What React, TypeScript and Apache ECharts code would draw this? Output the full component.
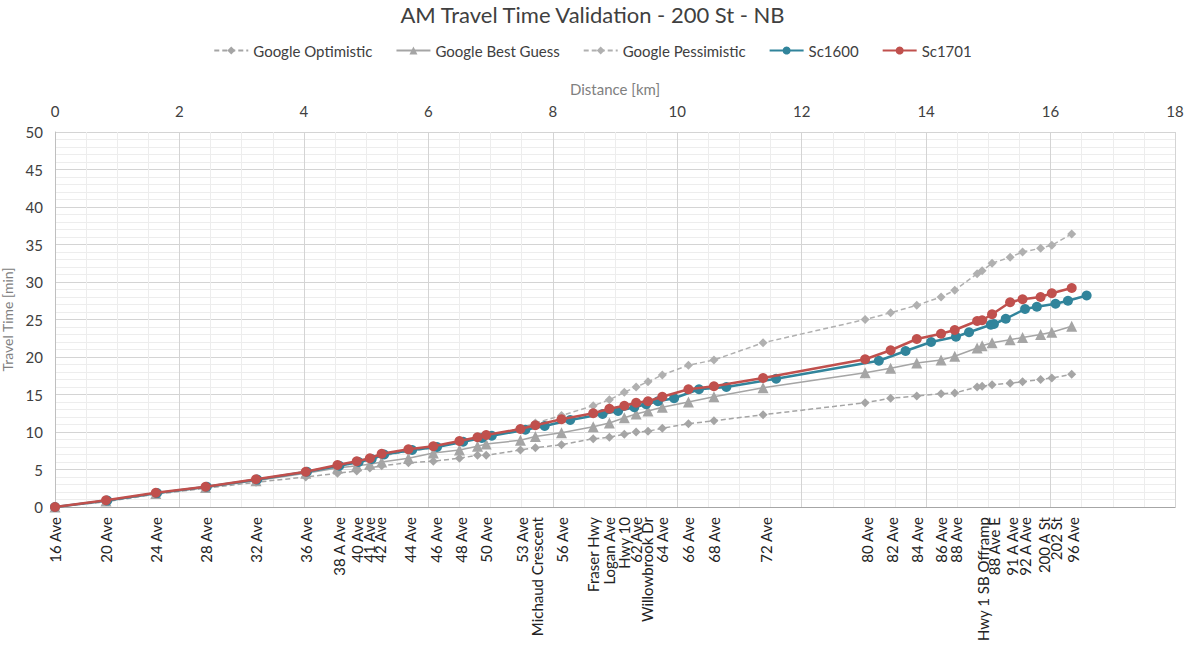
import React, { useEffect, useRef } from "react";
import * as echarts from "echarts";

// Station distances (km) shared by Google series and Sc1701
const stationKm = [0, 0.82, 1.62, 2.42, 3.23, 4.03, 4.54, 4.85, 5.06, 5.25, 5.68, 6.08, 6.5, 6.79, 6.93, 7.48, 7.72, 8.14, 8.65, 8.91, 9.15, 9.34, 9.53, 9.76, 10.18, 10.59, 11.38, 13.02, 13.43, 13.85, 14.24, 14.46, 14.82, 14.9, 15.06, 15.35, 15.55, 15.84, 16.02, 16.34];
const googleOptimistic = [0, 0.7, 1.7, 2.5, 3.3, 4.0, 4.5, 4.8, 5.2, 5.5, 5.9, 6.1, 6.5, 6.9, 6.9, 7.6, 7.9, 8.3, 9.1, 9.3, 9.7, 10.0, 10.1, 10.5, 11.1, 11.5, 12.3, 13.9, 14.5, 14.8, 15.1, 15.2, 16.0, 16.1, 16.3, 16.5, 16.7, 17.0, 17.2, 17.7];
const googleBestGuess = [0, 0.8, 1.8, 2.6, 3.5, 4.5, 5.2, 5.5, 5.7, 6.0, 6.5, 7.2, 7.6, 8.1, 8.4, 8.9, 9.4, 9.9, 10.7, 11.2, 11.9, 12.4, 12.8, 13.3, 14.0, 14.7, 15.9, 17.9, 18.5, 19.2, 19.6, 20.1, 21.2, 21.5, 21.9, 22.3, 22.6, 23.0, 23.3, 24.1];
const googlePessimistic = [0, 0.9, 1.8, 2.7, 3.6, 4.6, 5.4, 5.9, 6.3, 6.8, 7.4, 7.9, 8.6, 9.1, 9.4, 10.5, 11.2, 12.2, 13.5, 14.3, 15.3, 16.0, 16.7, 17.6, 18.9, 19.6, 21.9, 25.0, 25.9, 26.9, 28.0, 28.9, 31.1, 31.5, 32.5, 33.3, 34.0, 34.5, 34.9, 36.4];
const sc1701 = [0, 0.9, 1.9, 2.7, 3.7, 4.7, 5.6, 6.1, 6.5, 7.1, 7.7, 8.1, 8.8, 9.3, 9.6, 10.4, 10.9, 11.7, 12.5, 13.1, 13.5, 13.9, 14.1, 14.7, 15.7, 16.1, 17.2, 19.7, 20.9, 22.4, 23.1, 23.6, 24.8, 24.9, 25.7, 27.3, 27.7, 28.0, 28.5, 29.2];

// Sc1600 has its own modelled distances
const sc1600Km = [0, 0.84, 1.64, 2.44, 3.25, 4.05, 4.57, 4.88, 5.09, 5.29, 5.74, 6.14, 6.56, 6.86, 7.02, 7.56, 7.87, 8.28, 8.8, 9.05, 9.31, 9.5, 9.69, 9.95, 10.35, 10.79, 11.59, 13.24, 13.67, 14.08, 14.48, 14.69, 15.04, 15.09, 15.28, 15.59, 15.78, 16.08, 16.28, 16.58];
const sc1600 = [0, 0.85, 1.85, 2.7, 3.65, 4.7, 5.5, 6.0, 6.4, 7.0, 7.6, 8.0, 8.7, 9.2, 9.5, 10.3, 10.8, 11.6, 12.4, 12.8, 13.3, 13.7, 14.1, 14.5, 15.7, 16.0, 17.1, 19.5, 20.8, 22.0, 22.7, 23.3, 24.3, 24.4, 25.1, 26.4, 26.7, 27.1, 27.5, 28.2];

// Cross-street labels along the bottom axis
const labelKm = [0, 0.82, 1.62, 2.42, 3.23, 4.03, 4.56, 4.85, 5.04, 5.22, 5.7, 6.13, 6.52, 6.93, 7.5, 7.75, 8.15, 8.64, 8.91, 9.15, 9.34, 9.52, 9.76, 10.18, 10.59, 11.43, 13.05, 13.45, 13.85, 14.24, 14.48, 14.91, 15.09, 15.38, 15.59, 15.89, 16.08, 16.36];
const labelNames = ["16 Ave", "20 Ave", "24 Ave", "28 Ave", "32 Ave", "36 Ave", "38 A Ave", "40 Ave", "41 Ave", "42 Ave", "44 Ave", "46 Ave", "48 Ave", "50 Ave", "53 Ave", "Michaud Crescent", "56 Ave", "Fraser Hwy", "Logan Ave", "Hwy 10", "62 Ave", "Willowbrook Dr", "64 Ave", "66 Ave", "68 Ave", "72 Ave", "80 Ave", "82 Ave", "84 Ave", "86 Ave", "88 Ave", "Hwy 1 SB Offramp", "88 Ave E", "91 A Ave", "92 A Ave", "200 A St", "202 St", "96 Ave"];

const FONT = "Lato, 'Open Sans', sans-serif";
const TEXT = "#404040";

const pairs = (xs: number[], ys: number[]) => xs.map((x, i) => [x, ys[i]]);

export default function App() {
  const ref = useRef<HTMLDivElement>(null);
  useEffect(() => {
    if (!ref.current) return;
    const chart = echarts.init(ref.current, undefined, { renderer: "svg" });
    const nameFor = (v: number) => {
      let best = 0;
      let d = Infinity;
      labelKm.forEach((k, i) => {
        const dd = Math.abs(k - v);
        if (dd < d) { d = dd; best = i; }
      });
      return labelNames[best];
    };
    const dashedSeries = (name: string, data: number[], color: string) => ({
      name,
      type: "line",
      xAxisIndex: 0,
      data: pairs(stationKm, data),
      symbol: "diamond",
      symbolSize: 9,
      itemStyle: { color },
      lineStyle: { color, width: 1.5, type: [5, 3] },
      z: 2,
    });
    chart.setOption({
      animation: false,
      textStyle: { fontFamily: FONT },
      title: {
        text: "AM Travel Time Validation - 200 St - NB",
        left: "center",
        top: -2,
        textStyle: { fontFamily: FONT, fontSize: 22, fontWeight: "normal", color: TEXT },
      },
      legend: {
        top: 38,
        left: "center",
        itemWidth: 34,
        itemHeight: 10,
        itemGap: 23,
        textStyle: { fontFamily: FONT, fontSize: 15, color: TEXT },
        data: ["Google Optimistic", "Google Best Guess", "Google Pessimistic", "Sc1600", "Sc1701"],
      },
      grid: { left: 55, right: 10, top: 132, bottom: 142, containLabel: false, outerBoundsMode: "none" },
      xAxis: [
        {
          type: "value",
          position: "top",
          min: 0,
          max: 18,
          interval: 2,
          name: "Distance [km]",
          nameLocation: "middle",
          nameGap: 36,
          nameTextStyle: { fontFamily: FONT, fontSize: 15, color: "#808080" },
          axisLine: { show: true, lineStyle: { color: "#BFBFBF" } },
          axisTick: { show: false },
          axisLabel: { fontFamily: FONT, fontSize: 15, color: TEXT, margin: 14 },
          splitLine: { show: true, lineStyle: { color: "#D4D4D4", width: 1 } },
          minorTick: { show: false, splitNumber: 4 },
          minorSplitLine: { show: true, lineStyle: { color: "#EDEDED", width: 1 } },
        },
        {
          type: "value",
          position: "bottom",
          min: 0,
          max: 18,
          axisLine: { show: true, lineStyle: { color: "#A6A6A6" } },
          axisTick: { show: false },
          splitLine: { show: false },
          axisLabel: {
            customValues: labelKm,
            rotate: 90,
            margin: 10,
            fontFamily: FONT,
            fontSize: 15,
            color: "#222222",
            hideOverlap: false,
            formatter: (v: number) => nameFor(v),
          },
        },
      ],
      yAxis: {
        type: "value",
        min: 0,
        max: 50,
        interval: 5,
        name: "Travel Time [min]",
        nameLocation: "middle",
        nameGap: 38,
        nameTextStyle: { fontFamily: FONT, fontSize: 14, color: "#808080" },
        axisLine: { show: true, lineStyle: { color: "#BFBFBF" } },
        axisTick: { show: false },
        axisLabel: { fontFamily: FONT, fontSize: 15, color: TEXT, margin: 12 },
        splitLine: { show: true, lineStyle: { color: "#D4D4D4", width: 1 } },
        minorTick: { show: false, splitNumber: 5 },
        minorSplitLine: { show: true, lineStyle: { color: "#EDEDED", width: 1 } },
      },
      series: [
        dashedSeries("Google Optimistic", googleOptimistic, "#A5A5A5"),
        {
          name: "Google Best Guess",
          type: "line",
          xAxisIndex: 0,
          data: pairs(stationKm, googleBestGuess),
          symbol: "triangle",
          symbolSize: 11,
          itemStyle: { color: "#A5A5A5" },
          lineStyle: { color: "#A5A5A5", width: 1.5 },
          z: 2,
        },
        dashedSeries("Google Pessimistic", googlePessimistic, "#B0B0B0"),
        {
          name: "Sc1600",
          type: "line",
          xAxisIndex: 0,
          data: pairs(sc1600Km, sc1600),
          symbol: "circle",
          symbolSize: 10,
          itemStyle: { color: "#31849B" },
          lineStyle: { color: "#31849B", width: 2.5 },
          z: 3,
        },
        {
          name: "Sc1701",
          type: "line",
          xAxisIndex: 0,
          data: pairs(stationKm, sc1701),
          symbol: "circle",
          symbolSize: 10,
          itemStyle: { color: "#C0504D" },
          lineStyle: { color: "#C0504D", width: 2.5 },
          z: 4,
        },
      ],
    });
    return () => chart.dispose();
  }, []);
  return (
    <div
      ref={ref}
      style={{ position: "fixed", left: 0, top: 0, width: 1185, height: 649, background: "#ffffff" }}
    />
  );
}
